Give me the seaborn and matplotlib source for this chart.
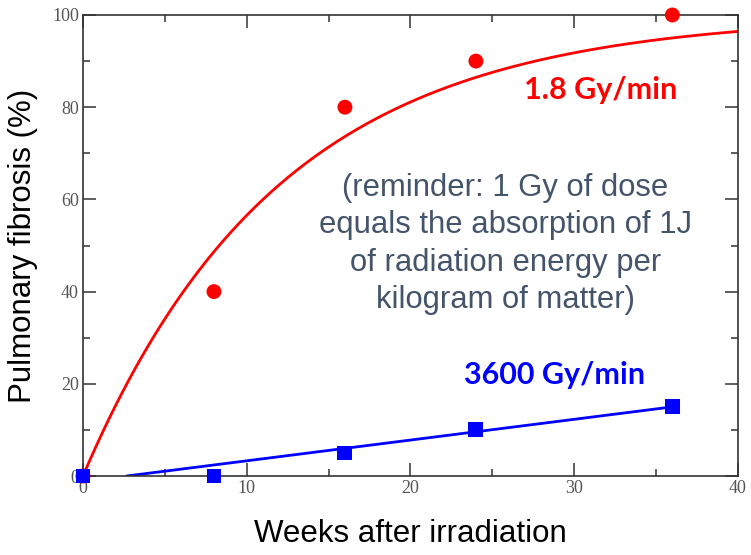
import numpy as np
import pandas as pd
import matplotlib
matplotlib.use("Agg")
import matplotlib.pyplot as plt
from matplotlib.ticker import MultipleLocator
import seaborn as sns

# Measured incidence of pulmonary fibrosis at each follow-up time
weeks = [0, 8, 16, 24, 36]
fibrosis_low_rate = [0, 40, 80, 90, 100]      # 1.8 Gy/min
fibrosis_high_rate = [0, 0, 5, 10, 15]        # 3600 Gy/min
rate_labels = ["1.8 Gy/min", "3600 Gy/min"]

# Fitted models: saturating exponential (low rate), straight line (high rate)
exp_plateau = 100.0
exp_tau = 12.0
lin_slope = 0.45
lin_intercept = -1.2

x_ticks = [0, 10, 20, 30, 40]
y_ticks = [0, 20, 40, 60, 80, 100]

note = ("(reminder: 1 Gy of dose\nequals the absorption of 1J\n"
        "of radiation energy per\nkilogram of matter)")

RED = "#ff0000"
BLUE = "#0000ff"

sns.set_theme(style="ticks")
plt.rcParams["font.family"] = ["Liberation Sans", "DejaVu Sans"]

df = pd.DataFrame({
    "weeks": weeks * 2,
    "fibrosis": fibrosis_low_rate + fibrosis_high_rate,
    "rate": [rate_labels[0]] * len(weeks) + [rate_labels[1]] * len(weeks),
})

t_low = np.linspace(0, 40, 400)
fit_low = pd.DataFrame({"weeks": t_low,
                        "fibrosis": exp_plateau * (1 - np.exp(-t_low / exp_tau))})
t_high = np.linspace(-lin_intercept / lin_slope, max(weeks), 100)
fit_high = pd.DataFrame({"weeks": t_high,
                         "fibrosis": lin_slope * t_high + lin_intercept})

fig = plt.figure(figsize=(7.51, 5.55), dpi=100)
ax = fig.add_axes([0.1105, 0.1423, 0.872, 0.8307])

sns.lineplot(data=fit_low, x="weeks", y="fibrosis", color=RED, lw=2, ax=ax)
sns.lineplot(data=fit_high, x="weeks", y="fibrosis", color=BLUE, lw=2, ax=ax)
sns.scatterplot(data=df, x="weeks", y="fibrosis", hue="rate", style="rate",
                palette={rate_labels[0]: RED, rate_labels[1]: BLUE},
                markers={rate_labels[0]: "o", rate_labels[1]: "s"},
                s=115, linewidth=0, legend=False, clip_on=False, zorder=5, ax=ax)

ax.set_xlim(0, 40)
ax.set_ylim(0, 100)
ax.set_xticks(x_ticks)
ax.set_yticks(y_ticks)
ax.xaxis.set_minor_locator(MultipleLocator(5))
ax.yaxis.set_minor_locator(MultipleLocator(10))
ax.tick_params(which="both", direction="in", top=True, right=True,
               color="#333333", width=1.1, labelcolor="#555555",
               labelsize=13, labelfontfamily="Liberation Serif")
ax.tick_params(which="major", length=9.5, pad=3)
ax.tick_params(which="minor", length=5)
for sp in ax.spines.values():
    sp.set_color("#333333")
    sp.set_linewidth(1.2)
    sp.set_visible(True)

ax.set_xlabel("Weeks after irradiation", fontsize=22.5, color="black", labelpad=16)
ax.set_ylabel("Pulmonary fibrosis (%)", fontsize=22.5, color="black", labelpad=10)

ax.text(31.6, 83.7, rate_labels[0], color=RED, fontsize=22, fontweight="bold",
        family="Lato", ha="center", va="center")
ax.text(28.8, 21.9, rate_labels[1], color=BLUE, fontsize=22, fontweight="bold",
        family="Lato", ha="center", va="center")
ax.text(25.8, 50.3, note, color="#44546a", fontsize=22.3, ha="center",
        va="center", linespacing=1.32)

fig.savefig("out.png", dpi=100)
